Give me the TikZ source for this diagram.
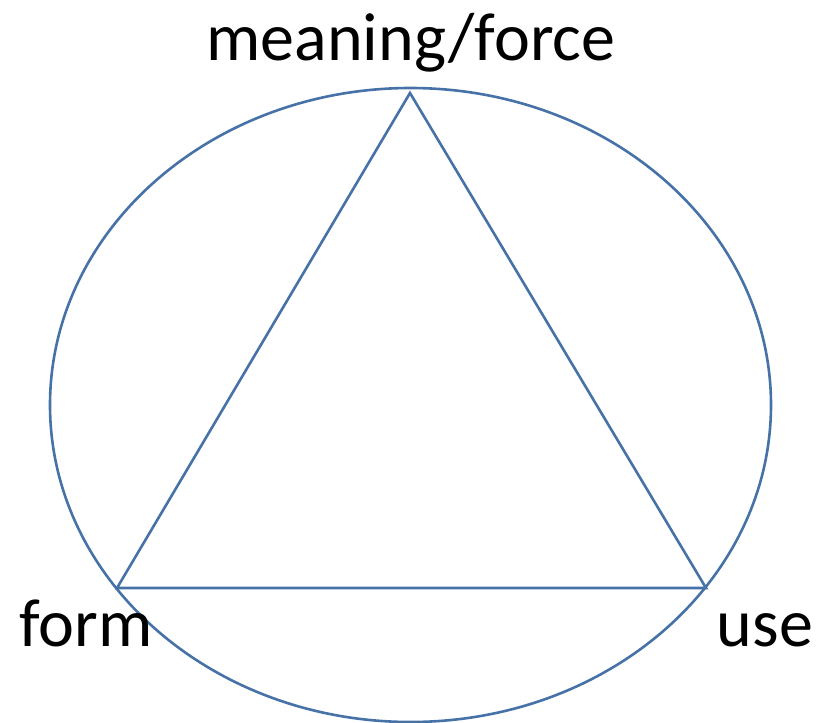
\documentclass[tikz,border=0pt]{standalone}
\usepackage{fontspec}
\setmainfont{Carlito}
\usepackage{tikz}
\usetikzlibrary{positioning}
\definecolor{edge}{RGB}{70,114,168}
\tikzset{
  rim/.style={draw=edge,line width=2.6pt},
  side/.style={draw=edge,line width=2.6pt,line join=miter},
  term/.style={font=\fontsize{68}{80}\selectfont,inner sep=0pt,anchor=base}
}

\begin{document}
\begin{tikzpicture}[x=1pt,y=-1pt]
  \useasboundingbox (0,0) rectangle (823,723);
  \draw[rim] (410.5,405) ellipse [x radius=360.5,y radius=317];
  % corners of the triangle
  \coordinate (top) at (410,93);
  \coordinate (lft) at (117,588);
  \coordinate (rgt) at (706,588);
  \draw[side] (top) -- (rgt) -- (lft) -- cycle;
  \node[term] (meaning) at (411,60) {meaning/force};
  \node[term] (form) at (86,646) {form};
  \node[term] (use) at (765,646) {use};
\end{tikzpicture}
\end{document}
